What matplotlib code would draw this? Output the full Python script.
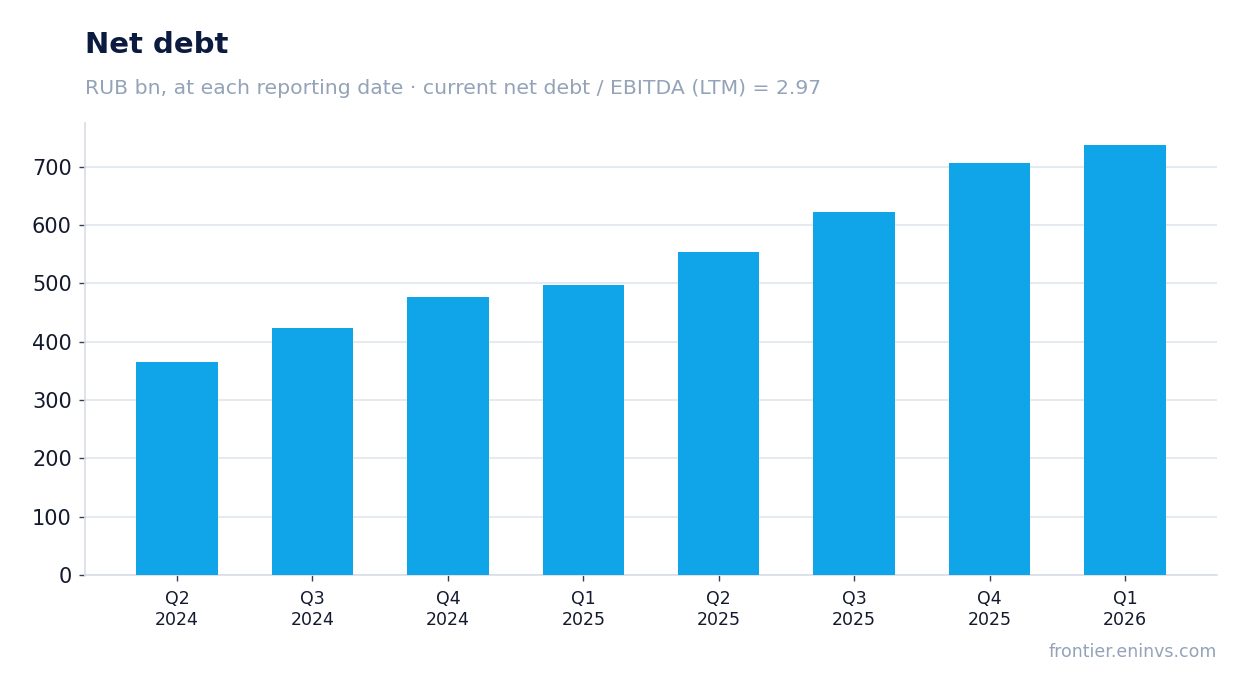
import matplotlib
matplotlib.use("Agg")
import matplotlib.pyplot as plt

plt.rcParams["font.family"] = ["DejaVu Sans"]

# data (RUB bn)
quarters = ["Q2\n2024", "Q3\n2024", "Q4\n2024", "Q1\n2025",
            "Q2\n2025", "Q3\n2025", "Q4\n2025", "Q1\n2026"]
net_debt = [365, 423, 477, 497, 554, 622, 706, 737]

BAR_COLOR = "#10a5e8"
GRID_COLOR = "#e5e9f0"
TITLE_COLOR = "#0b1b40"
MUTED = "#94a3b8"
TEXT = "#141a2e"

fig = plt.figure(figsize=(12.47, 6.93), dpi=100)
ax = fig.add_axes([85 / 1247, 1 - 575 / 693, (1217 - 85) / 1247, (575 - 123) / 693])

x = range(len(quarters))
ax.bar(x, net_debt, width=0.6, color=BAR_COLOR, zorder=3)

ax.set_xlim(-0.68, len(quarters) - 1 + 0.68)
ax.set_ylim(0, 775)
ax.set_yticks(range(0, 701, 100))
ax.set_xticks(list(x))
ax.set_xticklabels(quarters, fontsize=12.5, color=TEXT, linespacing=1.25)
ax.tick_params(axis="y", labelsize=15, length=4, width=1, pad=5.5,
               colors="#3a3f4f", labelcolor=TEXT)
ax.tick_params(axis="x", length=4, width=1, pad=6.5,
               colors="#3a3f4f", labelcolor=TEXT)

ax.grid(axis="y", color=GRID_COLOR, linewidth=1.5, zorder=0)
ax.set_axisbelow(True)
for side in ["top", "right"]:
    ax.spines[side].set_visible(False)
for side in ["left", "bottom"]:
    ax.spines[side].set_color("#d9dde8")
    ax.spines[side].set_linewidth(1.2)

fig.text(85 / 1247, 1 - 45 / 693, "Net debt", fontsize=21, fontweight="bold",
         color=TITLE_COLOR, va="center", ha="left")
fig.text(85 / 1247, 1 - 88 / 693,
         "RUB bn, at each reporting date \u00b7 current net debt / EBITDA (LTM) = 2.97",
         fontsize=14.7, color=MUTED, va="center", ha="left")
fig.text(1217 / 1247, 1 - 652 / 693, "frontier.eninvs.com", fontsize=12.5,
         color=MUTED, va="center", ha="right")

fig.savefig("out.png", dpi=100)
